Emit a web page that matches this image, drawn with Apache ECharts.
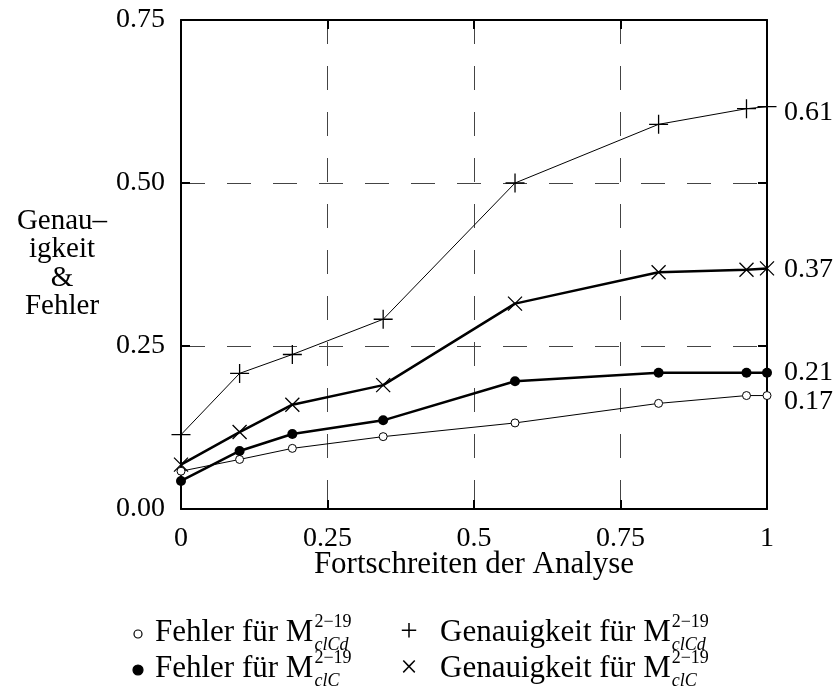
<!DOCTYPE html>
<html>
<head>
<meta charset="utf-8">
<script src="https://cdn.jsdelivr.net/npm/echarts@6/dist/echarts.min.js"></script>
<style>
  html, body { margin: 0; padding: 0; background: #fff; }
  #chart { width: 838px; height: 694px; }
</style>
</head>
<body>
<div id="chart"></div>
<script>
// progress of the analysis (x) and the four measured curves
const progress = [0, 0.10, 0.19, 0.345, 0.57, 0.815, 0.965, 1.0];
const fehlerClCd = [0.058, 0.076, 0.093, 0.111, 0.132, 0.162, 0.174, 0.174];
const fehlerClC = [0.043, 0.089, 0.115, 0.136, 0.196, 0.209, 0.209, 0.209];
const genauClCd = [0.114, 0.208, 0.237, 0.291, 0.500, 0.590, 0.614, 0.617];
const genauClC = [0.068, 0.118, 0.160, 0.190, 0.315, 0.363, 0.367, 0.369];

const xTickLabels = ['0', '0.25', '0.5', '0.75', '1'];
const yTickLabels = ['0.00', '0.25', '0.50', '0.75'];
const endLabels = { fehlerClCd: '0.17', fehlerClC: '0.21', genauClCd: '0.61', genauClC: '0.37' };

const legendLabels = ['Fehler für M', 'Genauigkeit für M', 'Fehler für M', 'Genauigkeit für M'];
const legendSubs = ['clCd', 'clCd', 'clC', 'clC'];
const legendSup = '2\u221219';

const FONT = "'Liberation Serif', 'DejaVu Serif', serif";
const FS = 28;      // tick and end labels
const FS_NAME = 31; // axis title, legend

function pairs(ys) {
  return progress.map((x, i) => [x, ys[i]]);
}

function measure(text, size) {
  const ctx = document.createElement('canvas').getContext('2d');
  ctx.font = size + 'px ' + FONT;
  return ctx.measureText(text).width;
}

const plusPath = 'path://M10,0L10,20M0,10L20,10';
const crossPath = 'path://M0,0L20,20M20,0L0,20';

function endLabel(text, dy) {
  return {
    show: true,
    formatter: text,
    distance: 17,
    offset: [0, dy],
    color: '#000',
    fontFamily: FONT,
    fontSize: FS
  };
}

// legend built from text pieces (M with stacked super/subscript)
const legendGraphic = [];
const colSym = [138, 409];
const colText = [155, 440];
const rowY = [633, 669];
legendLabels.forEach((lab, i) => {
  const col = i % 2, row = Math.floor(i / 2);
  const y = rowY[row];
  const w = measure(lab, FS_NAME);
  const sx = colSym[col];
  if (col === 0) {
    legendGraphic.push({
      type: 'circle',
      shape: { cx: sx, cy: y + 1, r: row === 0 ? 4 : 5 },
      style: { fill: row === 0 ? '#fff' : '#000', stroke: '#000', lineWidth: 1.2 }
    });
  } else {
    legendGraphic.push({
      type: 'text', x: sx, y: y,
      style: { text: row === 0 ? '+' : '\u00d7', font: FS_NAME + 'px ' + FONT, fill: '#000', align: 'center', verticalAlign: 'middle' }
    });
  }
  legendGraphic.push({
    type: 'text', x: colText[col], y: y,
    style: { text: lab, font: FS_NAME + 'px ' + FONT, fill: '#000', align: 'left', verticalAlign: 'middle' }
  });
  legendGraphic.push({
    type: 'text', x: colText[col] + w + 1, y: y - 11,
    style: { text: legendSup, font: '18px ' + FONT, fill: '#000', align: 'left', verticalAlign: 'middle' }
  });
  legendGraphic.push({
    type: 'text', x: colText[col] + w + 1, y: y + 12,
    style: { text: legendSubs[i], font: 'italic 18px ' + FONT, fill: '#000', align: 'left', verticalAlign: 'middle' }
  });
});

const chart = echarts.init(document.getElementById('chart'), null, { renderer: 'canvas' });

const frameLine = { show: true, onZero: false, lineStyle: { color: '#000', width: 2 } };
const frameTick = { show: true, inside: true, length: 9, lineStyle: { color: '#000', width: 2 } };
const gridDash = { show: true, lineStyle: { color: '#444', width: 1, type: [24, 22] } };

chart.setOption({
  animation: false,
  backgroundColor: '#fff',
  grid: { left: 181, right: 71, top: 20, bottom: 185 },
  xAxis: [
    {
      type: 'value', min: 0, max: 1, interval: 0.25, position: 'bottom',
      axisLine: frameLine, axisTick: frameTick, splitLine: gridDash,
      axisLabel: {
        color: '#000', fontFamily: FONT, fontSize: FS, margin: 16,
        formatter: v => xTickLabels[Math.round(v / 0.25)]
      },
      name: 'Fortschreiten der Analyse', nameLocation: 'middle', nameGap: 40,
      nameMoveOverlap: false,
      nameTextStyle: { color: '#000', fontFamily: FONT, fontSize: FS_NAME }
    },
    {
      type: 'value', min: 0, max: 1, interval: 0.25, position: 'top',
      axisLine: frameLine, axisTick: frameTick, splitLine: { show: false },
      axisLabel: { show: false }
    }
  ],
  yAxis: [
    {
      type: 'value', min: 0, max: 0.75, interval: 0.25, position: 'left',
      axisLine: frameLine, axisTick: frameTick, splitLine: gridDash,
      axisLabel: {
        color: '#000', fontFamily: FONT, fontSize: FS, margin: 16,
        formatter: v => yTickLabels[Math.round(v / 0.25)]
      }
    },
    {
      type: 'value', min: 0, max: 0.75, interval: 0.25, position: 'right',
      axisLine: frameLine, axisTick: frameTick, splitLine: { show: false },
      axisLabel: { show: false }
    }
  ],
  graphic: [
    {
      type: 'text', x: 62, y: 264,
      style: {
        text: 'Genau\u2013\nigkeit\n&\nFehler', font: '29px ' + FONT, lineHeight: 28.5,
        fill: '#000', align: 'center', verticalAlign: 'middle'
      }
    }
  ].concat(legendGraphic),
  series: [
    {
      name: 'Fehler clCd', type: 'line', data: pairs(fehlerClCd),
      symbol: 'circle', symbolSize: 8,
      lineStyle: { color: '#000', width: 1 },
      itemStyle: { color: '#fff', borderColor: '#000', borderWidth: 1 },
      endLabel: endLabel(endLabels.fehlerClCd, 6)
    },
    {
      name: 'Genauigkeit clCd', type: 'line', data: pairs(genauClCd),
      symbol: plusPath, symbolSize: 19,
      lineStyle: { color: '#000', width: 1 },
      itemStyle: { color: '#000', borderColor: '#000', borderWidth: 1.3 },
      endLabel: endLabel(endLabels.genauClCd, 6)
    },
    {
      name: 'Fehler clC', type: 'line', data: pairs(fehlerClC),
      symbol: 'circle', symbolSize: 10,
      lineStyle: { color: '#000', width: 2.5 },
      itemStyle: { color: '#000', borderColor: '#000', borderWidth: 0 },
      endLabel: endLabel(endLabels.fehlerClC, 0)
    },
    {
      name: 'Genauigkeit clC', type: 'line', data: pairs(genauClC),
      symbol: crossPath, symbolSize: 14,
      lineStyle: { color: '#000', width: 2.5 },
      itemStyle: { color: '#000', borderColor: '#000', borderWidth: 1.3 },
      endLabel: endLabel(endLabels.genauClC, 1)
    }
  ]
});
</script>
</body>
</html>
